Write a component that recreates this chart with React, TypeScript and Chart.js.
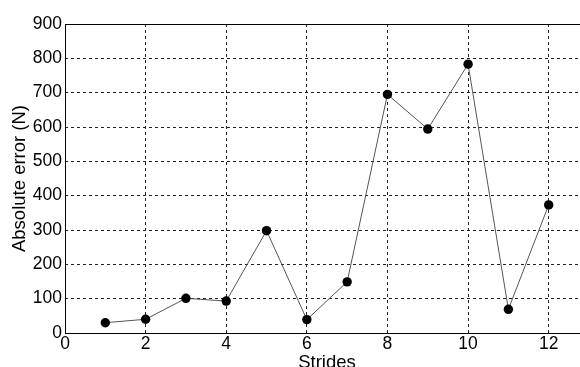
import React, { useEffect, useRef } from "react";
import { Chart, registerables } from "chart.js";

Chart.register(...registerables);

const strides = [1, 2, 3, 4, 5, 6, 7, 8, 9, 10, 11, 12];
const absErrors = [30, 40, 101, 93, 298, 39, 149, 695, 594, 783, 69, 373];
const xTicks = [0, 2, 4, 6, 8, 10, 12];
const xTitle = "Strides";
const yTitle = "Absolute error (N)";

const FONT = "'Liberation Sans', Arial, sans-serif";
const CANVAS_H = 374;

const frame = {
  id: "frame",
  afterDraw(chart: any) {
    const { ctx, chartArea } = chart;
    ctx.save();
    ctx.strokeStyle = "#000";
    ctx.lineWidth = 1;
    ctx.strokeRect(
      Math.round(chartArea.left) + 0.5,
      Math.round(chartArea.top) + 0.5,
      Math.round(chartArea.right - chartArea.left),
      Math.round(chartArea.bottom - chartArea.top)
    );
    ctx.restore();
  },
};

export default function App() {
  const ref = useRef<HTMLCanvasElement>(null);
  useEffect(() => {
    if (!ref.current) return;
    const chart = new Chart(ref.current, {
      type: "line",
      data: {
        datasets: [
          {
            data: strides.map((s, i) => ({ x: s, y: absErrors[i] })),
            borderColor: "#555",
            borderWidth: 1,
            backgroundColor: "#000",
            pointBackgroundColor: "#000",
            pointBorderColor: "#000",
            pointRadius: 4.7,
            pointBorderWidth: 0,
            tension: 0,
          },
        ],
      },
      options: {
        responsive: false,
        animation: false,
        layout: { padding: { top: 24, right: 11, left: 0, bottom: 0 } },
        plugins: { legend: { display: false }, tooltip: { enabled: false } },
        scales: {
          x: {
            type: "linear",
            min: 0,
            max: 13,
            afterBuildTicks: (scale: any) => {
              scale.ticks = xTicks.map((v) => ({ value: v }));
            },
            afterFit: (scale: any) => {
              scale.height = CANVAS_H - 333;
            },
            grid: {
              color: "#222",
              lineWidth: 1,
              drawTicks: false,
            },
            border: { display: false, dash: [3, 3] },
            ticks: {
              padding: 1,
              color: "#000",
              font: { family: FONT, size: 17.5 },
              maxRotation: 0,
            },
            title: {
              display: true,
              text: xTitle,
              color: "#000",
              font: { family: FONT, size: 18.5 },
              padding: { top: 0, bottom: 0 },
            },
          },
          y: {
            min: 0,
            max: 900,
            ticks: {
              stepSize: 100,
              padding: 3,
              color: "#000",
              font: { family: FONT, size: 17.5 },
            },
            afterFit: (scale: any) => {
              scale.width = 65;
            },
            grid: { color: "#222", lineWidth: 1, drawTicks: false },
            border: { display: false, dash: [3, 3] },
            title: {
              display: true,
              text: yTitle,
              color: "#000",
              font: { family: FONT, size: 18.5 },
              padding: { top: 9, bottom: 0 },
            },
          },
        },
      },
      plugins: [frame],
    });
    return () => chart.destroy();
  }, []);
  return (
    <div style={{ position: "fixed", left: 0, top: 0, width: 580, height: 367, overflow: "hidden", background: "#fff" }}>
      <canvas ref={ref} width={600} height={CANVAS_H} style={{ display: "block", width: 600, height: CANVAS_H }} />
    </div>
  );
}
